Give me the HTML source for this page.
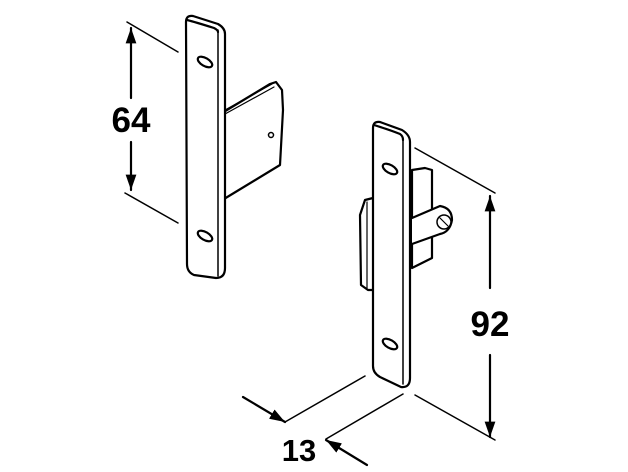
<!DOCTYPE html>
<html><head><style>html,body{margin:0;padding:0;background:#fff}svg{display:block}</style></head><body>
<svg width="628" height="472" viewBox="0 0 628 472" xmlns="http://www.w3.org/2000/svg">
<defs><marker id="a" viewBox="0 0 10 10" refX="10" refY="5" markerWidth="7" markerHeight="7" orient="auto-start-reverse"><path d="M0,1.5 L10,5 L0,8.5 Z" fill="#000"/></marker></defs>
<g fill="none" stroke="#000" stroke-width="2.2" stroke-linejoin="round" stroke-linecap="round">
<path d="M222,113 L270,84 L276,82 L282,90 L283,110 L280,165 L224,199" fill="#fff"/>
<path d="M225,110 L272,84 M225,114 L274,87" stroke-width="1.2"/>
<circle cx="271" cy="135" r="2.5" stroke-width="1.5"/>
<path d="M218,116 Q224,150 220,200" stroke-width="1.2"/>
<path d="M186,22 Q186,15 193,16 L218,24 Q225,28 225,34 L225,268 Q225,278 216,278 L194,275 Q187,272 187,264 Z" fill="#fff"/>
<path d="M218,30 L218,276" stroke-width="1.5"/>
<path d="M187,20 Q195,22 214,28 Q218,30 218,32"/>
<ellipse cx="205" cy="62" rx="8" ry="4" transform="rotate(30 205 62)"/>
<ellipse cx="205" cy="236" rx="8" ry="4" transform="rotate(30 205 236)"/>
<line x1="127" y1="22" x2="178" y2="52" stroke-width="1.5"/>
<line x1="125" y1="193" x2="178" y2="223" stroke-width="1.5"/>
<line x1="131" y1="98" x2="131" y2="28" marker-end="url(#a)"/>
<line x1="131" y1="142" x2="131" y2="190" marker-end="url(#a)"/>
<path d="M412,170 L425,168 L432,170 L432,258 L412,268 Z" fill="#fff"/>
<path d="M412,218 L440,206 Q452,208 452,220 Q450,232 440,234 L412,244" fill="#fff"/>
<circle cx="444" cy="222" r="7" stroke-width="1.5"/>
<path d="M440,218 L448,226" stroke-width="1.2"/>
<path d="M373,198 L365,200 L360,215 L361,285 L368,290 L373,290" fill="#fff"/>
<path d="M367,202 L367,288" stroke-width="1.2"/>
<path d="M373,128 Q373,121 380,122 L402,130 Q410,135 410,142 L410,378 Q410,388 401,387 L380,377 Q373,373 373,366 Z" fill="#fff"/>
<path d="M403,138 L403,384" stroke-width="1.5"/>
<path d="M374,125 Q390,130 400,134 Q403,136 403,140"/>
<ellipse cx="390" cy="169" rx="8" ry="4" transform="rotate(30 390 169)"/>
<ellipse cx="390" cy="344" rx="8" ry="4" transform="rotate(30 390 344)"/>
<line x1="415" y1="148" x2="495" y2="193" stroke-width="1.5"/>
<line x1="415" y1="395" x2="495" y2="440" stroke-width="1.5"/>
<line x1="490" y1="288" x2="490" y2="196" marker-end="url(#a)"/>
<line x1="490" y1="355" x2="490" y2="437" marker-end="url(#a)"/>
<line x1="285" y1="422" x2="365" y2="376" stroke-width="1.5"/>
<line x1="403" y1="394" x2="326" y2="439" stroke-width="1.5"/>
<line x1="243" y1="397" x2="285" y2="422" marker-end="url(#a)"/>
<line x1="367" y1="465" x2="326" y2="440" marker-end="url(#a)"/>
</g>
<g font-family="Liberation Sans, sans-serif" font-weight="bold" font-size="35" fill="#000" text-anchor="middle">
<text x="131" y="132">64</text>
<text x="490" y="336">92</text>
<text x="299" y="461" font-size="31">13</text>
</g>
</svg>
</body></html>
